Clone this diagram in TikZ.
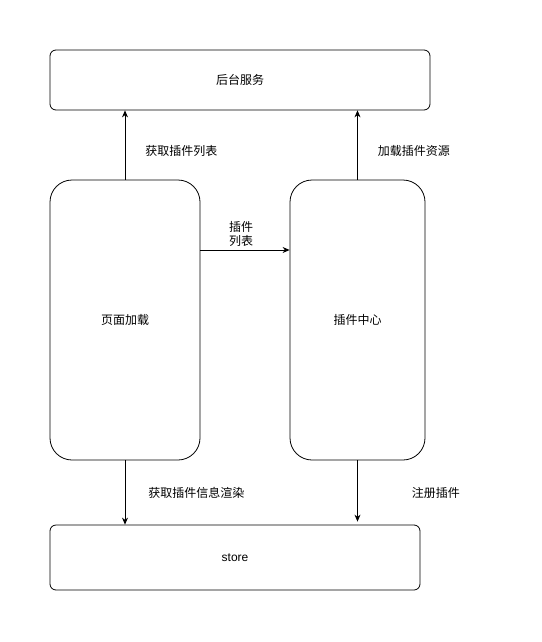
\documentclass[tikz,border=0pt]{standalone}
\usepackage{fontspec}
\setmainfont{Liberation Sans}
\newfontfamily\cjk{Noto Sans CJK SC}
\usetikzlibrary{arrows.meta,positioning}

\begin{document}
\begin{tikzpicture}[x=1pt,y=-1pt,
	  box/.style={draw, line width=0.8pt, rounded corners=6pt, inner sep=0pt,
	    font=\cjk\fontsize{12}{14}\selectfont},
	  tallbox/.style={box, rounded corners=22pt},
	  lbl/.style={font=\cjk\fontsize{12}{14}\selectfont, inner sep=2pt},
	  flow/.style={-{Stealth[length=7pt,width=6pt]}, line width=0.8pt}]

	  \useasboundingbox (0,0) rectangle (541,642);

	  \node[box, minimum width=380pt, minimum height=60pt] (backend) at (240,80) {后台服务};
	  \node[tallbox, minimum width=150pt, minimum height=280pt] (pageload) at (125,320) {页面加载};
	  \node[tallbox, minimum width=135pt, minimum height=280pt] (plugincenter) at (357.5,320) {插件中心};
	  \node[box, minimum width=370pt, minimum height=65pt, font=\fontsize{12}{14}\selectfont] (store) at (235,557.5) {store};

	  \draw[flow] (pageload.north) -- node[lbl, right=18pt, yshift=-6pt] (fetchlist) {获取插件列表} (pageload.north |- backend.south);
	  \draw[flow] (plugincenter.north) -- node[lbl, right=18pt, yshift=-6pt] (loadres) {加载插件资源} (plugincenter.north |- backend.south);
	  \draw[flow] (pageload.east |- 0,250) -- node[lbl, above=1pt, xshift=-4pt, align=center] (pluginlist) {插件\\列表} (plugincenter.west |- 0,250);
	  \draw[flow] (pageload.south) -- node[lbl, right=21pt] (render) {获取插件信息渲染} (pageload.south |- store.north);
	  \draw[flow, shorten >=3pt] (plugincenter.south) -- node[lbl, right=52pt] (register) {注册插件} (plugincenter.south |- store.north);
	\end{tikzpicture}
\end{document}
